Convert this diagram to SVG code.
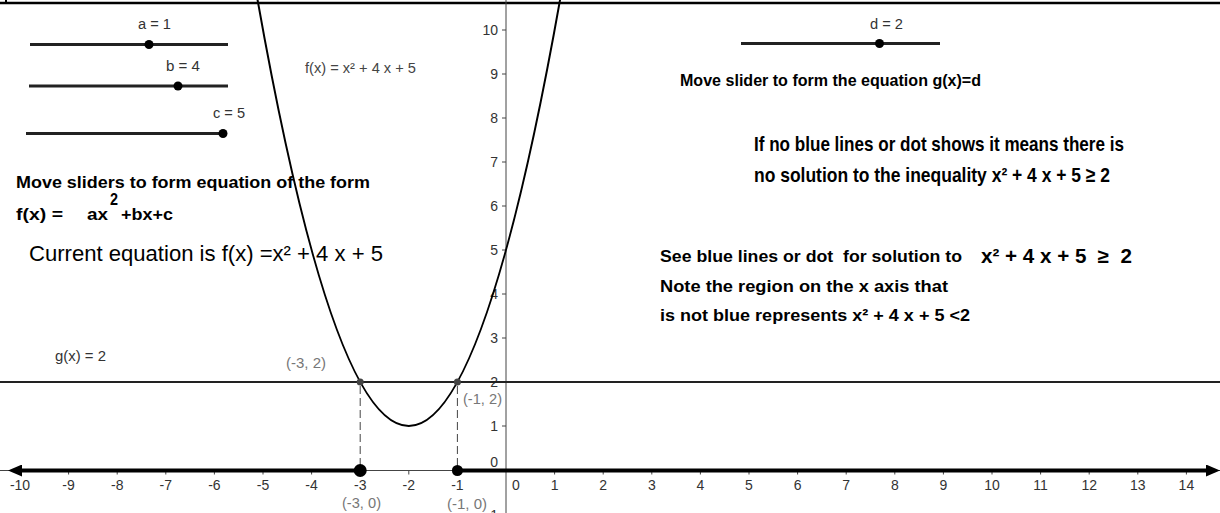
<svg xmlns="http://www.w3.org/2000/svg" width="1220" height="513" viewBox="0 0 1220 513">
<style>
text{font-family:"Liberation Sans",Arial,sans-serif}
.lbl{font-size:14px;fill:#333}
.pt{font-size:14px;fill:#777}
.b{font-weight:bold;fill:#000}
.ax{font-size:14px;fill:#333}
.slider{stroke:#222;stroke-width:3}
.thin{stroke:#444;stroke-width:1;fill:none}
.dash{stroke:#444;stroke-width:1;stroke-dasharray:8 4}
</style>
<defs>
<marker id="arr" markerUnits="userSpaceOnUse" viewBox="0 0 14 12" refX="4" refY="6" markerWidth="14" markerHeight="12" orient="auto">
<path d="M0,0 L14,6 L0,12 z" fill="#000"/>
</marker>
</defs>
<rect width="1220" height="513" fill="#fff"/>
<g id="frame">
<line x1="0" y1="3" x2="1220" y2="3" stroke="#000" stroke-width="2.5"/>
<line x1="6" y1="0" x2="6" y2="3" stroke="#000" stroke-width="2"/>
</g>
<g id="axes">
<line class="thin" x1="0" y1="470.5" x2="1220" y2="470.5"/>
<line class="thin" x1="506" y1="0" x2="506" y2="513"/>
<path class="thin" d="M20,470.5v4M68.6,470.5v4M117.2,470.5v4M165.8,470.5v4M214.4,470.5v4M263,470.5v4M311.6,470.5v4M360.2,470.5v4M408.8,470.5v4M457.4,470.5v4M554.6,470.5v4M603.2,470.5v4M651.8,470.5v4M700.4,470.5v4M749,470.5v4M797.6,470.5v4M846.2,470.5v4M894.8,470.5v4M943.4,470.5v4M992,470.5v4M1040.6,470.5v4M1089.2,470.5v4M1137.8,470.5v4M1186.4,470.5v4"/>
<path class="thin" d="M502,30h4M502,74h4M502,118h4M502,162h4M502,206h4M502,250h4M502,294h4M502,338h4M502,382h4M502,426h4"/>
<g class="ax" text-anchor="middle">
<text x="20" y="490">-10</text><text x="68.6" y="490">-9</text><text x="117.2" y="490">-8</text><text x="165.8" y="490">-7</text><text x="214.4" y="490">-6</text><text x="263" y="490">-5</text><text x="311.6" y="490">-4</text><text x="360.2" y="490">-3</text><text x="408.8" y="490">-2</text><text x="457.4" y="490">-1</text><text x="516" y="490">0</text><text x="554.6" y="490">1</text><text x="603.2" y="490">2</text><text x="651.8" y="490">3</text><text x="700.4" y="490">4</text><text x="749" y="490">5</text><text x="797.6" y="490">6</text><text x="846.2" y="490">7</text><text x="894.8" y="490">8</text><text x="943.4" y="490">9</text><text x="992" y="490">10</text><text x="1040.6" y="490">11</text><text x="1089.2" y="490">12</text><text x="1137.8" y="490">13</text><text x="1186.4" y="490">14</text>
</g>
<g class="ax" text-anchor="end">
<text x="498" y="35">10</text><text x="498" y="79">9</text><text x="498" y="123">8</text><text x="498" y="167">7</text><text x="498" y="211">6</text><text x="498" y="255">5</text><text x="498" y="299">4</text><text x="498" y="343">3</text><text x="498" y="387">2</text><text x="498" y="431">1</text><text x="498" y="467">0</text><text x="498" y="520">-1</text>
</g>
</g>
<g id="connectors">
<line x1="0" y1="382" x2="1220" y2="382" stroke="#222" stroke-width="2"/>
<path id="curve" d="M253.28,-24.56 Q408.8,876.56 564.32,-24.56" fill="none" stroke="#000" stroke-width="2"/>
<line class="dash" x1="360.2" y1="386" x2="360.2" y2="466"/>
<line class="dash" x1="457.4" y1="386" x2="457.4" y2="466"/>
<line x1="360.2" y1="470.5" x2="18" y2="470.5" stroke="#000" stroke-width="4" marker-end="url(#arr)"/>
<line x1="457.4" y1="470.5" x2="1210" y2="470.5" stroke="#000" stroke-width="4" marker-end="url(#arr)"/>
</g>
<g id="points">
<circle cx="360.2" cy="382" r="3.5" fill="#444"/>
<circle cx="457.4" cy="382" r="3.5" fill="#444"/>
<circle cx="360.2" cy="470.5" r="6.5" fill="#000"/>
<circle cx="457.4" cy="470.5" r="5.5" fill="#000"/>
<text class="pt" x="286" y="368" textLength="40" lengthAdjust="spacingAndGlyphs">(-3, 2)</text>
<text class="pt" x="463" y="404" textLength="39" lengthAdjust="spacingAndGlyphs">(-1, 2)</text>
<text class="pt" x="342" y="508" textLength="39" lengthAdjust="spacingAndGlyphs">(-3, 0)</text>
<text class="pt" x="447" y="509" textLength="40" lengthAdjust="spacingAndGlyphs">(-1, 0)</text>
</g>
<g id="slider-a">
<line class="slider" x1="30" y1="44.5" x2="228" y2="44.5"/>
<circle cx="149" cy="44.5" r="4.5" fill="#000"/>
<text class="lbl" x="138" y="29" textLength="33" lengthAdjust="spacingAndGlyphs">a = 1</text>
</g>
<g id="slider-b">
<line class="slider" x1="29" y1="86" x2="228" y2="86"/>
<circle cx="178" cy="86" r="4.5" fill="#000"/>
<text class="lbl" x="166" y="71" textLength="34" lengthAdjust="spacingAndGlyphs">b = 4</text>
</g>
<g id="slider-c">
<line class="slider" x1="26" y1="133.5" x2="223" y2="133.5"/>
<circle cx="223" cy="133.5" r="4.5" fill="#000"/>
<text class="lbl" x="213" y="118" textLength="32" lengthAdjust="spacingAndGlyphs">c = 5</text>
</g>
<g id="slider-d">
<line class="slider" x1="741" y1="43.5" x2="940" y2="43.5"/>
<circle cx="879.5" cy="43.5" r="4.5" fill="#000"/>
<text class="lbl" x="870" y="29" textLength="33" lengthAdjust="spacingAndGlyphs">d = 2</text>
</g>
<g id="label-f">
<text x="305" y="73" style="font-size:14px;fill:#444" textLength="111" lengthAdjust="spacingAndGlyphs">f(x) = x² + 4 x + 5</text>
</g>
<g id="label-g">
<text class="lbl" x="55" y="361" textLength="51" lengthAdjust="spacingAndGlyphs">g(x) = 2</text>
</g>
<g id="text-move-sliders">
<text class="b" x="16" y="188" style="font-size:17px" textLength="354" lengthAdjust="spacingAndGlyphs">Move sliders to form equation of the form</text>
<text class="b" x="16" y="220" style="font-size:17px" textLength="47" lengthAdjust="spacingAndGlyphs">f(x)  =</text>
<text class="b" x="87" y="220" style="font-size:17px" textLength="21" lengthAdjust="spacingAndGlyphs">ax</text>
<text class="b" x="110" y="205" style="font-size:16px" textLength="8" lengthAdjust="spacingAndGlyphs">2</text>
<text class="b" x="121" y="220" style="font-size:17px" textLength="52" lengthAdjust="spacingAndGlyphs">+bx+c</text>
</g>
<g id="text-current">
<text x="29" y="261" style="font-size:22px;fill:#000" textLength="354" lengthAdjust="spacingAndGlyphs">Current equation is f(x) =x² + 4 x + 5</text>
</g>
<g id="text-move-slider-d">
<text class="b" x="680" y="86" style="font-size:17px" textLength="301" lengthAdjust="spacingAndGlyphs">Move slider to form the equation g(x)=d</text>
</g>
<g id="text-no-solution">
<text class="b" x="754" y="151" style="font-size:21px" textLength="370" lengthAdjust="spacingAndGlyphs">If no blue lines or dot shows it means there is</text>
<text class="b" x="754" y="182" style="font-size:21px" textLength="356" lengthAdjust="spacingAndGlyphs">no solution to the inequality x² + 4 x + 5 ≥ 2</text>
</g>
<g id="text-see-blue">
<text class="b" x="660" y="262" style="font-size:17px" xml:space="preserve" textLength="302" lengthAdjust="spacingAndGlyphs">See blue lines or dot  for solution to</text>
<text class="b" x="981" y="263" style="font-size:20px" xml:space="preserve" textLength="151" lengthAdjust="spacingAndGlyphs">x² + 4 x + 5  ≥  2</text>
<text class="b" x="660" y="292" style="font-size:17px" textLength="288" lengthAdjust="spacingAndGlyphs">Note the region on the x axis that</text>
<text class="b" x="660" y="321" style="font-size:17px" textLength="310" lengthAdjust="spacingAndGlyphs">is not blue represents x² + 4 x + 5 &lt;2</text>
</g>
</svg>
